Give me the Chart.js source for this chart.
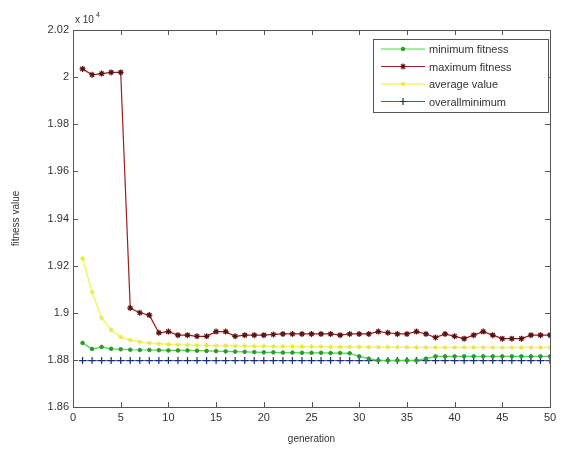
<!DOCTYPE html>
<html>
<head>
<meta charset="utf-8">
<script src="https://cdn.jsdelivr.net/npm/chart.js@4"></script>
<style>
  body { margin: 0; background: #fff; }
  #c { display: block; }
</style>
</head>
<body>
<canvas id="c" width="570" height="449"></canvas>
<script>
// generations 1..50, values shown in units of 10^4
const generations = [1,2,3,4,5,6,7,8,9,10,11,12,13,14,15,16,17,18,19,20,21,22,23,24,25,
  26,27,28,29,30,31,32,33,34,35,36,37,38,39,40,41,42,43,44,45,46,47,48,49,50];

const minimumFitness = [1.8872,1.8846,1.8855,1.8847,1.8845,1.8843,1.8842,1.8842,1.8841,1.8840,
  1.8840,1.8840,1.8839,1.8838,1.8837,1.8836,1.8835,1.8834,1.8833,1.8832,
  1.8832,1.8831,1.8831,1.8830,1.8830,1.8830,1.8829,1.8829,1.8828,1.8815,
  1.8805,1.8798,1.8798,1.8798,1.8798,1.8798,1.8805,1.8815,1.8815,1.8815,
  1.8815,1.8815,1.8815,1.8815,1.8815,1.8815,1.8815,1.8815,1.8815,1.8815];

const maximumFitness = [2.0035,2.0010,2.0015,2.0020,2.0020,1.9020,1.9000,1.8990,1.8915,1.8920,
  1.8905,1.8905,1.8900,1.8900,1.8920,1.8920,1.8900,1.8905,1.8905,1.8905,
  1.8908,1.8910,1.8910,1.8910,1.8910,1.8910,1.8910,1.8905,1.8910,1.8910,
  1.8910,1.8920,1.8915,1.8910,1.8910,1.8920,1.8910,1.8895,1.8910,1.8900,
  1.8890,1.8905,1.8920,1.8905,1.8890,1.8890,1.8890,1.8905,1.8905,1.8905];

const averageValue = [1.9230,1.9088,1.8978,1.8927,1.8897,1.8884,1.8876,1.8871,1.8868,1.8866,
  1.8864,1.8863,1.8862,1.8861,1.8860,1.8860,1.8859,1.8859,1.8858,1.8858,
  1.8857,1.8857,1.8857,1.8856,1.8856,1.8856,1.8855,1.8855,1.8855,1.8855,
  1.8854,1.8854,1.8854,1.8854,1.8854,1.8853,1.8853,1.8853,1.8853,1.8853,
  1.8853,1.8853,1.8853,1.8853,1.8852,1.8852,1.8852,1.8852,1.8852,1.8852];

const overallMinimum = [1.8797,1.8797,1.8797,1.8797,1.8797,1.8797,1.8797,1.8797,1.8797,1.8797,
  1.8797,1.8797,1.8797,1.8797,1.8797,1.8797,1.8797,1.8797,1.8797,1.8797,
  1.8797,1.8797,1.8797,1.8797,1.8797,1.8797,1.8797,1.8797,1.8797,1.8797,
  1.8797,1.8797,1.8797,1.8797,1.8797,1.8797,1.8797,1.8797,1.8797,1.8797,
  1.8797,1.8797,1.8797,1.8797,1.8797,1.8797,1.8797,1.8797,1.8797,1.8797];

const seriesNames = ['minimum fitness', 'maximum fitness', 'average value', 'overallminimum'];
const xTicks = [0,5,10,15,20,25,30,35,40,45,50];
const yTicks = [1.86,1.88,1.9,1.92,1.94,1.96,1.98,2,2.02];

const axisColor = '#555';
const textColor = '#333';
const fontName = '"Liberation Sans", Arial, sans-serif';

function toPoints(values) {
  return generations.map((g, i) => ({ x: g, y: values[i] }));
}

// MATLAB style box, inward ticks on all four sides, exponent label
const matlabAxes = {
  id: 'matlabAxes',
  afterDraw(chart) {
    const ctx = chart.ctx;
    const a = chart.chartArea;
    const xs = chart.scales.x, ys = chart.scales.y;
    ctx.save();
    ctx.strokeStyle = axisColor;
    ctx.lineWidth = 1;
    ctx.strokeRect(a.left + 0.5, a.top + 0.5, a.right - a.left, a.bottom - a.top);
    ctx.beginPath();
    xTicks.forEach(t => {
      const px = Math.round(xs.getPixelForValue(t)) + 0.5;
      ctx.moveTo(px, a.bottom); ctx.lineTo(px, a.bottom - 5);
      ctx.moveTo(px, a.top); ctx.lineTo(px, a.top + 5);
    });
    yTicks.forEach(t => {
      const py = Math.round(ys.getPixelForValue(t)) + 0.5;
      ctx.moveTo(a.left, py); ctx.lineTo(a.left + 5, py);
      ctx.moveTo(a.right, py); ctx.lineTo(a.right - 5, py);
    });
    ctx.stroke();

    ctx.fillStyle = textColor;
    ctx.font = '10px ' + fontName;
    ctx.textBaseline = 'alphabetic';
    ctx.fillText('x 10', a.left + 2, a.top - 7);
    ctx.font = '7px ' + fontName;
    ctx.fillText('4', a.left + 23, a.top - 13);
    ctx.restore();
  }
};

// legend box inside the plot, line sample with marker
const boxLegend = {
  id: 'boxLegend',
  afterDraw(chart) {
    const ctx = chart.ctx;
    const a = chart.chartArea;
    const left = a.right - 177, top = a.top + 9, w = 175, h = 73;
    ctx.save();
    ctx.fillStyle = '#fff';
    ctx.fillRect(left, top, w, h);
    ctx.strokeStyle = axisColor;
    ctx.lineWidth = 1;
    ctx.strokeRect(left + 0.5, top + 0.5, w, h);
    ctx.font = '11px ' + fontName;
    ctx.textBaseline = 'middle';
    chart.data.datasets.forEach((ds, i) => {
      const y = top + 10 + i * 17.5;
      ctx.strokeStyle = ds.borderColor;
      ctx.lineWidth = ds.borderWidth;
      ctx.beginPath();
      ctx.moveTo(left + 8, y); ctx.lineTo(left + 52, y);
      ctx.stroke();
      ctx.fillStyle = ds.pointBackgroundColor;
      ctx.strokeStyle = ds.pointBorderColor;
      ctx.lineWidth = ds.pointBorderWidth;
      Chart.helpers.drawPoint(ctx, {
        pointStyle: ds.pointStyle, radius: ds.pointRadius, rotation: 0,
        borderWidth: ds.pointBorderWidth
      }, left + 30, y);
      ctx.fillStyle = textColor;
      ctx.fillText(seriesNames[i], left + 56, y + 1);
    });
    ctx.restore();
  }
};

new Chart(document.getElementById('c'), {
  type: 'line',
  data: {
    datasets: [
      {
        label: seriesNames[0],
        data: toPoints(minimumFitness),
        borderColor: '#4cd64c',
        backgroundColor: '#2a9a2a',
        pointBorderColor: '#2a9a2a',
        pointBackgroundColor: '#2a9a2a',
        pointStyle: 'circle',
        pointRadius: 1.8,
        pointBorderWidth: 1,
        borderWidth: 1.2
      },
      {
        label: seriesNames[1],
        data: toPoints(maximumFitness),
        borderColor: '#9a2020',
        backgroundColor: '#5a1010',
        pointBorderColor: '#5a1010',
        pointBackgroundColor: '#5a1010',
        pointStyle: 'star',
        pointRadius: 3,
        pointBorderWidth: 1.2,
        borderWidth: 1.2
      },
      {
        label: seriesNames[2],
        data: toPoints(averageValue),
        borderColor: '#f4f466',
        backgroundColor: '#e6e640',
        pointBorderColor: '#e6e640',
        pointBackgroundColor: '#e6e640',
        pointStyle: 'star',
        pointRadius: 2.5,
        pointBorderWidth: 1,
        borderWidth: 1.5
      },
      {
        label: seriesNames[3],
        data: toPoints(overallMinimum),
        borderColor: '#3a64b0',
        backgroundColor: '#1c2e7a',
        pointBorderColor: '#1c2e7a',
        pointBackgroundColor: '#1c2e7a',
        pointStyle: 'cross',
        pointRadius: 3.5,
        pointBorderWidth: 1.2,
        borderWidth: 1
      }
    ]
  },
  options: {
    responsive: false,
    animation: false,
    devicePixelRatio: 1,
    layout: { padding: { top: 30, right: 20, left: 0, bottom: 0 } },
    elements: { line: { tension: 0 } },
    plugins: {
      legend: { display: false },
      tooltip: { enabled: false }
    },
    scales: {
      x: {
        type: 'linear',
        min: 0, max: 50,
        afterFit(scale) { scale.height = 42; },
        afterBuildTicks(scale) { scale.ticks = xTicks.map(v => ({ value: v })); },
        grid: { display: false, drawTicks: false },
        border: { display: false },
        ticks: { color: textColor, font: { family: fontName, size: 11 }, padding: 4 },
        title: { display: true, text: 'generation', color: textColor,
                 font: { family: fontName, size: 10 }, padding: { top: 0, bottom: 4 } }
      },
      y: {
        type: 'linear',
        min: 1.86, max: 2.02,
        afterFit(scale) { scale.width = 73; },
        afterBuildTicks(scale) { scale.ticks = yTicks.map(v => ({ value: v })); },
        grid: { display: false, drawTicks: false },
        border: { display: false },
        ticks: {
          color: textColor, font: { family: fontName, size: 11 }, padding: 4,
          callback: v => String(Number(v.toFixed(2)))
        },
        title: { display: true, text: 'fitness value', color: textColor,
                 font: { family: fontName, size: 10 }, padding: { top: 10, bottom: 4 } }
      }
    }
  },
  plugins: [matlabAxes, boxLegend]
});
</script>
</body>
</html>
